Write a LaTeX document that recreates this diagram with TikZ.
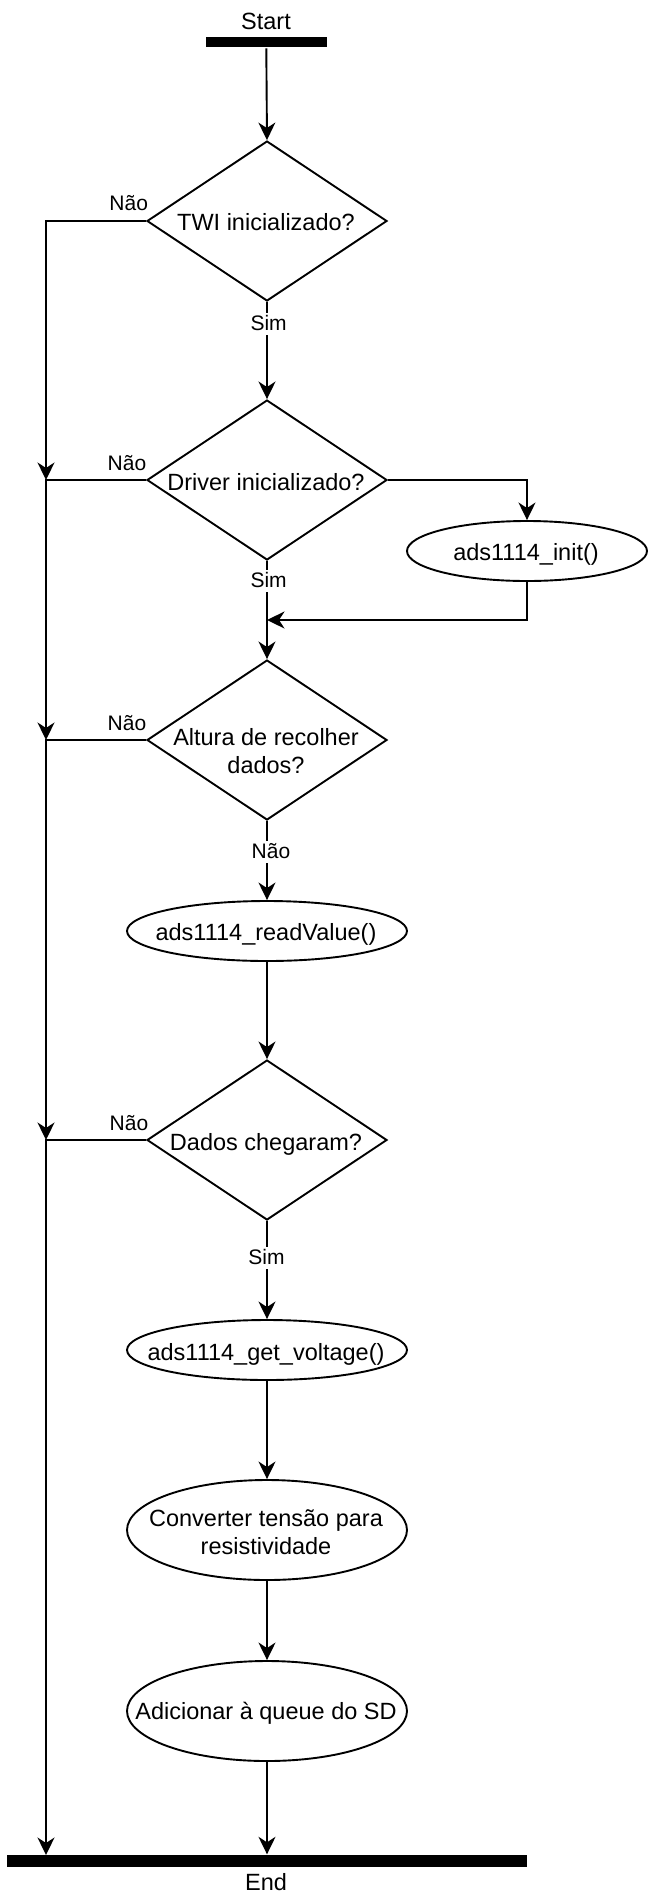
\documentclass[tikz,border=0pt]{standalone}
\usepackage{fontspec}
\setmainfont{Liberation Sans}
\usetikzlibrary{shapes.geometric,arrows.meta}
\tikzset{
  dec/.style={draw, diamond, minimum width=240pt, minimum height=160pt, inner sep=0pt},
  proc/.style={draw, ellipse, minimum width=280pt, minimum height=60pt, inner sep=0pt},
  bar/.style={fill=black, draw=none, rectangle, inner sep=0pt},
  txt/.style={font=\fontsize{23.5}{28}\selectfont, inner sep=0pt, anchor=base, align=center},
  lbl/.style={font=\fontsize{21}{25}\selectfont, inner sep=2pt, anchor=base, text depth=0.25em},
  lblw/.style={lbl, fill=white},
  arr/.style={-{Stealth[length=17.5pt,width=17pt,inset=5.5pt]}},
}
\begin{document}
\begin{tikzpicture}[x=1pt,y=-1pt,line width=1.9pt]
\useasboundingbox (0,0) rectangle (648,1904);
\fill[white] (0,0) rectangle (648,1904);

% shapes
\node[bar, minimum width=120.7pt, minimum height=10.7pt] (startbar) at (266.3,42) {};
\node[dec] (d1) at (267,221) {};
\node[dec] (d2) at (267,480) {};
\node[proc, minimum width=240pt] (init) at (527,551) {};
\node[dec] (d3) at (267,740) {};
\node[proc] (read) at (267,931) {};
\node[dec] (d4) at (267,1140) {};
\node[proc] (volt) at (267,1350) {};
\node[proc, minimum height=100pt] (conv) at (267,1530) {};
\node[proc, minimum height=100pt] (queue) at (267,1711) {};
\node[bar, minimum width=520pt, minimum height=11.5pt] (endbar) at (267,1861) {};

\coordinate (j2) at (46,480);
\coordinate (j3) at (46,740);
\coordinate (j4) at (46,1140);
\coordinate (jend) at (46,1855);
\coordinate (merge) at (267,620);

% connectors
\draw[arr] (startbar.south) -- (d1.north);
\draw[arr] (d1.south) -- (d2.north);
\draw[arr] (d1.west) -| (j2);
\draw[arr] (d2.west) -| (j3);
\draw[arr] (d3.west) -| (j4);
\draw[arr] (d4.west) -| (jend);
\draw[arr] (d2.east) -| (init.north);
\draw[arr] (init.south) |- (merge);
\draw[arr] (d2.south) -- (d3.north);
\draw[arr] (d3.south) -- (read.north);
\draw[arr] (read.south) -- (d4.north);
\draw[arr] (d4.south) -- (volt.north);
\draw[arr] (volt.south) -- (conv.north);
\draw[arr] (conv.south) -- (queue.north);
\draw[arr] (queue.south) -- (endbar.north);

% texts
\node[txt] (tstart) at (266,29.3) {Start};
\node[txt] (t1) at (266,230) {TWI inicializado?};
\node[txt] (t2) at (266,490) {Driver inicializado?};
\node[txt] (tinit) at (526,560) {ads1114\_init()};
\node[txt] (t3) at (266,773.5) {Altura de recolher\\dados?};
\node[txt] (tread) at (266,940) {ads1114\_readValue()};
\node[txt] (t4) at (266,1150) {Dados chegaram?};
\node[txt] (tvolt) at (266,1360) {ads1114\_get\_voltage()};
\node[txt] (tconv) at (266,1554) {Converter tensão para\\resistividade};
\node[txt] (tqueue) at (266,1719.3) {Adicionar à queue do SD};
\node[txt] (tend) at (266,1890.5) {End};

% edge labels
\node[lbl] (n1) at (128.7,210) {Não};
\node[lblw] (s1) at (268.6,330) {Sim};
\node[lbl] (n2) at (127,470) {Não};
\node[lblw] (s2) at (268.6,587.3) {Sim};
\node[lbl] (n3) at (127,730) {Não};
\node[lblw] (n3b) at (271,858) {Não};
\node[lbl] (n4) at (129,1130) {Não};
\node[lblw] (s4) at (266.5,1264) {Sim};
\end{tikzpicture}
\end{document}
